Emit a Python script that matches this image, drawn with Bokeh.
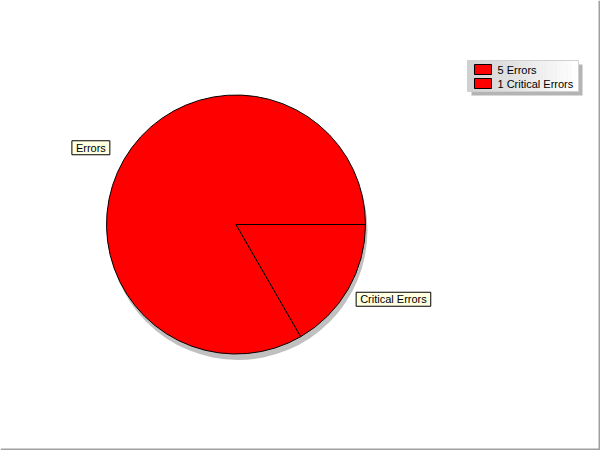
import math
from bokeh.plotting import figure
from bokeh.models import Range1d, Label, Span
from bokeh.core.properties import value
from bokeh.embed import file_html
from bokeh.resources import INLINE

# ---- data ----
categories = ["Errors", "Critical Errors"]
counts = [5, 1]
colors = ["#ff0000", "#ff0000"]
legend_labels = [f"{n} {c}" for n, c in zip(counts, categories)]

W, H = 600, 450
p = figure(width=W, height=H, x_range=Range1d(0, W), y_range=Range1d(0, H),
           output_backend="svg", toolbar_location=None, min_border=0,
           background_fill_color="white", border_fill_color="white")
p.axis.visible = False
p.grid.visible = False
p.outline_line_color = None

FONT = "Liberation Sans"

# pie geometry (screen-like units, y up)
cx, cy, r = 235.5, 226, 129.5
total = sum(counts)
starts, ends = [], []
acc = 0.0
for c in counts:
    starts.append(2 * math.pi * acc / total)
    acc += c
    ends.append(2 * math.pi * acc / total)

# shadow
p.circle(x=[cx + 2], y=[cy - 6], radius=r, fill_color="#c0c0c0", line_color=None)

p.wedge(x=cx, y=cy, radius=r, start_angle=starts, end_angle=ends,
        fill_color=colors, line_color="black", line_width=1)

# slice labels
for cat, s, e in zip(categories, starts, ends):
    mid = (s + e) / 2
    px = cx + r * math.cos(mid)
    py = cy + r * math.sin(mid)
    if math.cos(mid) < 0:
        align, base, xo, yo = "right", "bottom", -14, 5
    else:
        align, base, xo, yo = "left", "top", 8, -3
    for dx, dy, tcol, bg, bc in [(3, -2, None, "#8c8c8c", "#8c8c8c"),
                                  (0, 0, "black", "#ffffe1", "black")]:
        lab = Label(x=px, y=py, x_offset=xo + dx, y_offset=yo + dy, text=cat,
                    text_align=align, text_baseline=base,
                    text_font=FONT, text_font_size="11px",
                    text_color=tcol if tcol else "black",
                    text_alpha=1 if tcol else 0,
                    background_fill_color=bg, border_line_color=bc,
                    padding=(4, 1))
        p.add_layout(lab)

# legend box with gradient + shadow
lx0, lx1, ly0, ly1 = 467, 578, 359, 390
p.quad(left=[lx0 + 4], right=[lx1 + 4], bottom=[ly0 - 4], top=[ly1 - 4],
       fill_color="#b4b4b4", line_color=None)
nstep = 40
lefts, rights, cols = [], [], []
for i in range(nstep):
    t = i / (nstep - 1)
    g = int(round(208 + (255 - 208) * t))
    lefts.append(lx0 + (lx1 - lx0) * i / nstep)
    rights.append(lx0 + (lx1 - lx0) * (i + 1) / nstep + 0.5)
    cols.append("#%02x%02x%02x" % (g, g, g))
p.quad(left=lefts, right=rights, bottom=ly0, top=ly1, fill_color=cols, line_color=None)
p.quad(left=[lx0], right=[lx1], bottom=[ly0], top=[ly1], fill_color=None,
       line_color="#d0d0d0", line_width=1)

item_y = [381, 367]
p.rect(x=[482.5] * len(legend_labels), y=item_y, width=17, height=10,
       fill_color=colors, line_color="black", line_width=1)
p.text(x=[497] * len(legend_labels), y=item_y, text=legend_labels,
       text_font=value(FONT), text_font_size="11px", text_baseline="middle",
       text_align="left", text_color="black")

# frame lines right/bottom
p.add_layout(Span(location=W - 1, dimension="height", line_color="#a0a0a0", line_width=2))
p.add_layout(Span(location=1, dimension="width", line_color="#a0a0a0", line_width=2))

open("out.html", "w").write(file_html(p, INLINE))
